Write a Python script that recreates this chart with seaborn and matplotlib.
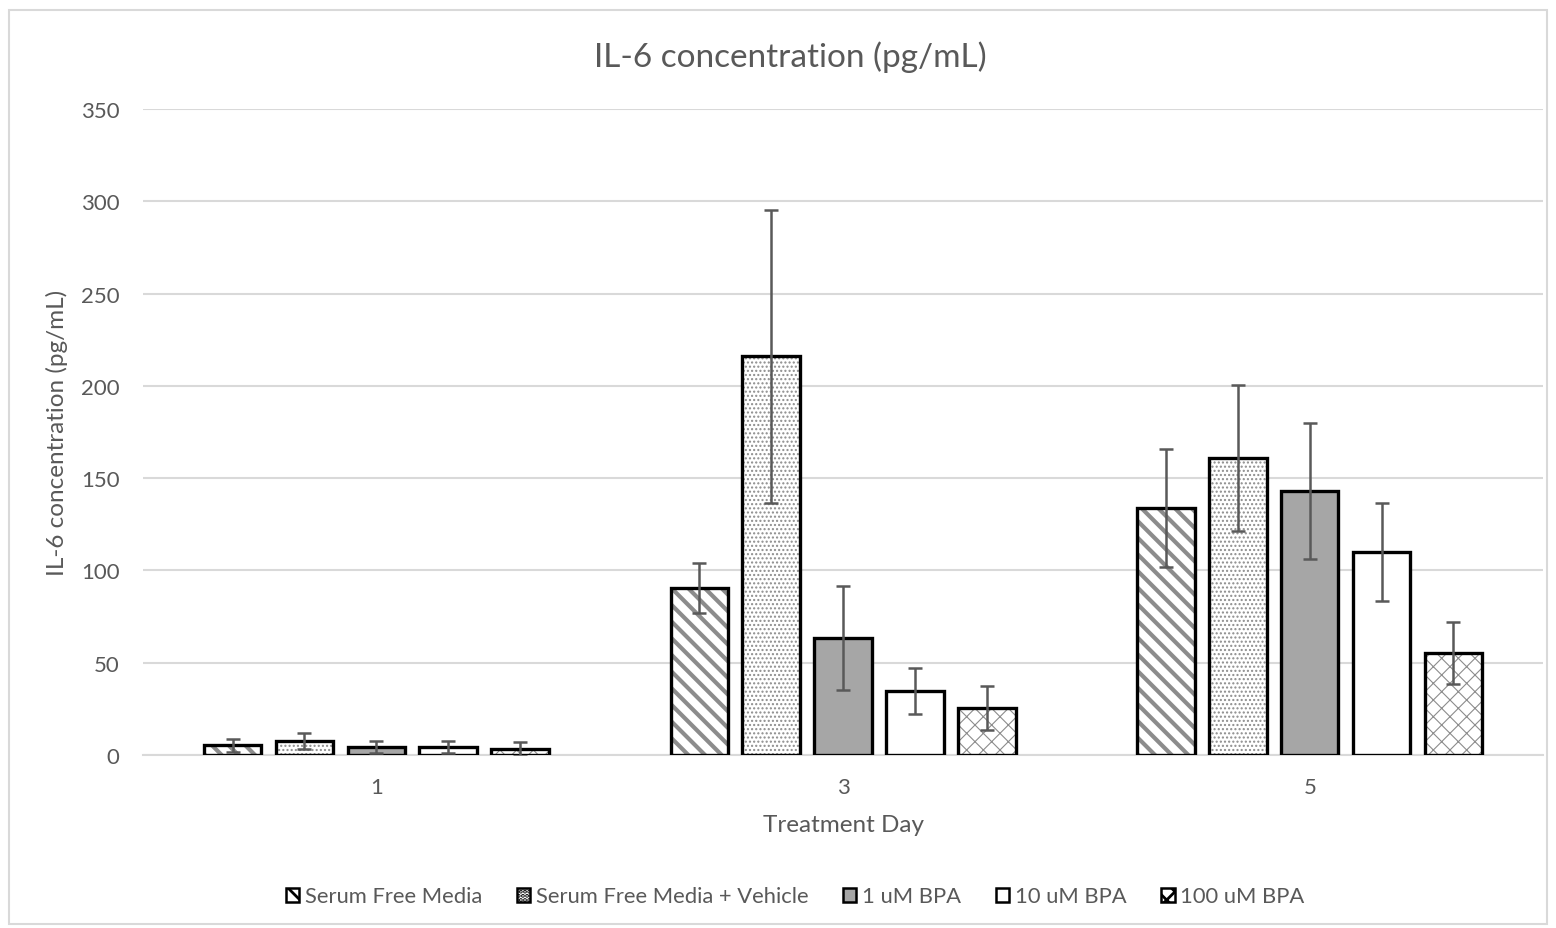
import numpy as np
import pandas as pd
import seaborn as sns
import matplotlib.pyplot as plt
from matplotlib.patches import Rectangle

days = ["1", "3", "5"]
treatments = ["Serum Free Media", "Serum Free Media + Vehicle", "1 uM BPA", "10 uM BPA", "100 uM BPA"]
# mean values per treatment, one per day
sfm = [5.4, 90.5, 133.8]
sfm_veh = [7.6, 216.0, 161.0]
bpa_1 = [4.3, 63.4, 143.0]
bpa_10 = [4.3, 34.7, 110.0]
bpa_100 = [3.3, 25.5, 55.3]
# error bar half-lengths
sfm_err = [3.5, 13.5, 32.0]
sfm_veh_err = [4.2, 79.5, 39.5]
bpa_1_err = [3.2, 28.0, 36.8]
bpa_10_err = [3.2, 12.5, 26.5]
bpa_100_err = [3.8, 12.0, 16.7]

means = [sfm, sfm_veh, bpa_1, bpa_10, bpa_100]
errs = [sfm_err, sfm_veh_err, bpa_1_err, bpa_10_err, bpa_100_err]

rows = []
for t, m in zip(treatments, means):
    for d, v in zip(days, m):
        rows.append({"day": d, "treatment": t, "value": v})
df = pd.DataFrame(rows)

sns.set_style("white")
plt.rcParams['font.family'] = ['Lato', 'DejaVu Sans']
plt.rcParams['hatch.linewidth'] = 2.0

grey_txt = "#595959"
fills = ["white", "white", "#a6a6a6", "white", "white"]
hatches = ["\\\\", "....", None, None, "xx"]
hatch_lw = [3.0, 1.0, 1.0, 1.0, 0.8]

fig = plt.figure(figsize=(15.56, 9.29), dpi=100)
ax = fig.add_axes([0.0919, 0.1862, 0.8998, 0.6954])

sns.barplot(data=df, x="day", y="value", hue="treatment", hue_order=treatments,
            palette=fills, errorbar=None, width=0.77, gap=0.2, ax=ax, legend=False,
            saturation=1)

bar_groups = list(ax.containers)
for i, cont in enumerate(bar_groups):
    for j, p in enumerate(cont.patches):
        p.set_facecolor(fills[i])
        if hatches[i]:
            p.set_hatch(hatches[i])
            p.set_edgecolor("#8c8c8c")
            if hasattr(p, "set_hatch_linewidth"):
                p.set_hatch_linewidth(hatch_lw[i])
        else:
            p.set_edgecolor("none")
        p.set_linewidth(0)
        ax.add_patch(Rectangle(p.get_xy(), p.get_width(), p.get_height(), fill=False,
                               ec="black", lw=2.4, zorder=3))
        cx = p.get_x() + p.get_width() / 2
        ax.errorbar(cx, p.get_height(), yerr=errs[i][j], fmt="none", ecolor=grey_txt,
                    elinewidth=1.8, capsize=5, capthick=1.8, zorder=4)

ax.set_ylim(0, 350)
ax.set_xlim(-0.5, 2.5)
ax.set_yticks(np.arange(0, 351, 50))
ax.yaxis.grid(True, color="#d9d9d9", lw=1.5)
ax.set_axisbelow(True)
for s in ["top", "right", "left"]:
    ax.spines[s].set_visible(False)
ax.spines["bottom"].set_color("#d9d9d9")
ax.spines["bottom"].set_linewidth(1.5)
ax.tick_params(axis="both", length=0, labelsize=16, labelcolor=grey_txt)
ax.tick_params(axis="x", pad=16)
ax.tick_params(axis="y", pad=17)

ax.set_xlabel("Treatment Day", fontsize=17.5, color=grey_txt, labelpad=12)
ax.set_ylabel("IL-6 concentration (pg/mL)", fontsize=17.5, color=grey_txt, labelpad=9)
fig.text(0.508, 0.938, "IL-6 concentration (pg/mL)", ha="center", va="center",
         fontsize=24, color=grey_txt)

handles = []
for i in range(len(treatments)):
    h = Rectangle((0, 0), 1, 1, facecolor=fills[i], edgecolor="black", lw=1.8,
                  hatch=hatches[i])
    handles.append(h)
fig.legend(handles, treatments, loc="center", bbox_to_anchor=(0.511, 0.034), ncol=5,
           frameon=False, fontsize=15.8, labelcolor=grey_txt, handlelength=0.6,
           handleheight=0.6, handletextpad=0.25, columnspacing=1.6)

fig.patches.append(Rectangle((0.006, 0.004), 0.988, 0.984, transform=fig.transFigure,
                             fill=False, ec="#d9d9d9", lw=1.5))

plt.savefig("out.png", dpi=100)
